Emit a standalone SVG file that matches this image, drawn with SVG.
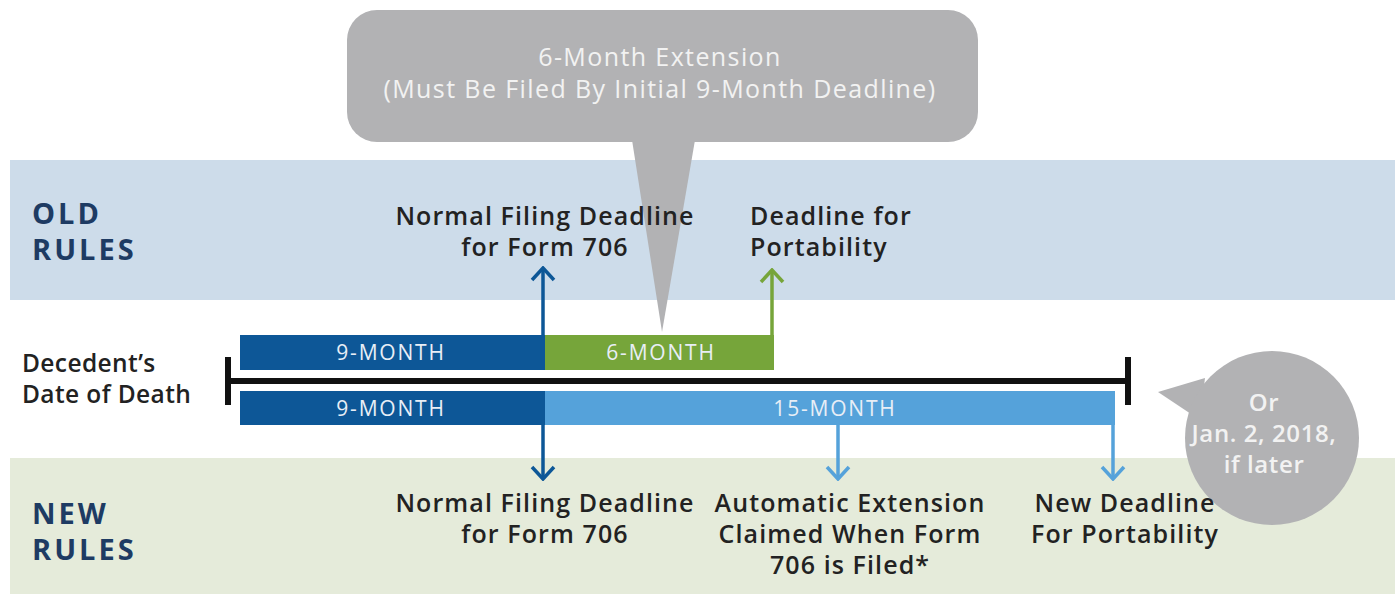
<svg xmlns="http://www.w3.org/2000/svg" width="1400" height="596" viewBox="0 0 1400 596">
  <defs>
    <style>
      .lbl { font-family: "Open Sans", "Liberation Sans", sans-serif; font-weight: 600; font-size: 25px; letter-spacing: 1.1px; fill: #222; }
      .dod { font-family: "Open Sans", "Liberation Sans", sans-serif; font-weight: 600; font-size: 24.5px; letter-spacing: 0.4px; fill: #222; }
      .rule { font-family: "Open Sans", "Liberation Sans", sans-serif; font-weight: 700; font-size: 29px; fill: #1e3b63; letter-spacing: 3px; }
      .bar { font-family: "Open Sans", "Liberation Sans", sans-serif; font-weight: 400; font-size: 21px; letter-spacing: 1.8px; fill: #e8eef6; text-anchor: middle; }
      .bubble { font-family: "Open Sans", "Liberation Sans", sans-serif; font-weight: 400; font-size: 25px; letter-spacing: 1.4px; fill: #f2f2f2; text-anchor: middle; }
      .bubble2 { font-family: "Open Sans", "Liberation Sans", sans-serif; font-weight: 600; font-size: 24px; letter-spacing: 0.6px; fill: #f2f2f2; text-anchor: middle; }
      .stem { fill: none; stroke-width: 3.5; }
    </style>
    <!-- open chevron heads, drawn along the path direction -->
    <marker id="headDark" viewBox="0 0 16 26" refX="14" refY="13" markerWidth="16" markerHeight="26" markerUnits="userSpaceOnUse" orient="auto">
      <polyline points="2,2 14,13 2,24" fill="none" stroke="#0d5797" stroke-width="3.5"/>
    </marker>
    <marker id="headGreen" viewBox="0 0 16 26" refX="14" refY="13" markerWidth="16" markerHeight="26" markerUnits="userSpaceOnUse" orient="auto">
      <polyline points="2,2 14,13 2,24" fill="none" stroke="#76a53a" stroke-width="3.5"/>
    </marker>
    <marker id="headLight" viewBox="0 0 16 26" refX="14" refY="13" markerWidth="16" markerHeight="26" markerUnits="userSpaceOnUse" orient="auto">
      <polyline points="2,2 14,13 2,24" fill="none" stroke="#55a2da" stroke-width="3.5"/>
    </marker>
  </defs>

  <rect width="1400" height="596" fill="#ffffff"/>

  <!-- rule bands -->
  <g id="old-rules">
    <rect x="10" y="160" width="1385" height="140" fill="#cddcea"/>
    <text class="rule" x="32" y="224">OLD</text>
    <text class="rule" x="32" y="260">RULES</text>
  </g>
  <g id="new-rules">
    <rect x="10" y="458" width="1385" height="136" fill="#e5ebda"/>
    <text class="rule" x="32" y="524">NEW</text>
    <text class="rule" x="32" y="560">RULES</text>
  </g>

  <!-- date callout (sits behind the portability label) -->
  <g id="date-callout">
    <path d="M1158,392 L1205,378 L1200,420 Z" fill="#b2b2b4"/>
    <circle cx="1272" cy="438" r="87" fill="#b2b2b4"/>
    <text class="bubble2" x="1264" y="411">Or</text>
    <text class="bubble2" x="1264" y="442">Jan. 2, 2018,</text>
    <text class="bubble2" x="1264" y="473">if later</text>
  </g>

  <!-- connectors -->
  <g id="connectors">
    <path class="stem" d="M543,335 V268" stroke="#0d5797" marker-end="url(#headDark)"/>
    <path class="stem" d="M772,335 V270" stroke="#76a53a" marker-end="url(#headGreen)"/>
    <path class="stem" d="M543,425 V479" stroke="#0d5797" marker-end="url(#headDark)"/>
    <path class="stem" d="M838,425 V479" stroke="#55a2da" marker-end="url(#headLight)"/>
    <path class="stem" d="M1113,425 V479" stroke="#55a2da" marker-end="url(#headLight)"/>
  </g>

  <!-- old timeline bars -->
  <g id="bar-old-9">
    <rect x="240" y="335" width="305" height="35" fill="#0d5797"/>
    <text class="bar" x="391" y="360">9-MONTH</text>
  </g>
  <g id="bar-old-6">
    <rect x="545" y="335" width="229" height="35" fill="#76a53a"/>
    <text class="bar" x="661" y="360">6-MONTH</text>
  </g>

  <!-- new timeline bars -->
  <g id="bar-new-9">
    <rect x="240" y="391" width="305" height="34" fill="#0d5797"/>
    <text class="bar" x="391" y="416">9-MONTH</text>
  </g>
  <g id="bar-new-15">
    <rect x="545" y="391" width="570" height="34" fill="#55a2da"/>
    <text class="bar" x="835" y="416">15-MONTH</text>
  </g>

  <!-- main timeline -->
  <g id="timeline" stroke="#111" stroke-width="6">
    <line x1="228" y1="381" x2="1128" y2="381"/>
    <line x1="228" y1="357" x2="228" y2="405"/>
    <line x1="1128" y1="357" x2="1128" y2="405"/>
  </g>

  <g id="date-of-death">
    <text class="dod" x="22" y="372">Decedent’s</text>
    <text class="dod" x="22" y="403">Date of Death</text>
  </g>

  <!-- extension callout -->
  <g id="extension-callout">
    <path d="M632,140 L695,140 L662,332 Z" fill="#b2b2b4"/>
    <rect x="347" y="10" width="631" height="132" rx="30" fill="#b2b2b4"/>
    <text class="bubble" x="660" y="66">6-Month Extension</text>
    <text class="bubble" x="660" y="98">(Must Be Filed By Initial 9-Month Deadline)</text>
  </g>

  <!-- old rule labels -->
  <g id="old-normal-deadline">
    <text class="lbl" x="545" y="225" text-anchor="middle">Normal Filing Deadline</text>
    <text class="lbl" x="545" y="256" text-anchor="middle">for Form 706</text>
  </g>
  <g id="old-portability">
    <text class="lbl" x="750" y="225">Deadline for</text>
    <text class="lbl" x="750" y="256">Portability</text>
  </g>

  <!-- new rule labels -->
  <g id="new-normal-deadline">
    <text class="lbl" x="545" y="512" text-anchor="middle">Normal Filing Deadline</text>
    <text class="lbl" x="545" y="543" text-anchor="middle">for Form 706</text>
  </g>
  <g id="new-auto-extension">
    <text class="lbl" x="850" y="512" text-anchor="middle">Automatic Extension</text>
    <text class="lbl" x="850" y="543" text-anchor="middle">Claimed When Form</text>
    <text class="lbl" x="850" y="574" text-anchor="middle">706 is Filed*</text>
  </g>
  <g id="new-portability">
    <text class="lbl" x="1125" y="512" text-anchor="middle">New Deadline</text>
    <text class="lbl" x="1125" y="543" text-anchor="middle">For Portability</text>
  </g>
</svg>
